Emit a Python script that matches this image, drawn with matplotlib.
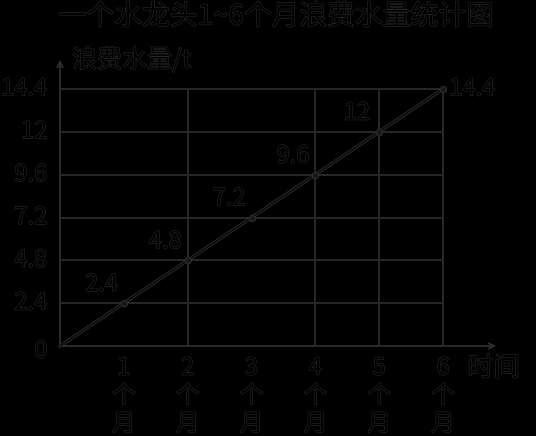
import matplotlib
matplotlib.use("Agg")
import matplotlib.pyplot as plt
import matplotlib.patheffects as pe

plt.rcParams['font.family'] = ['Noto Sans CJK SC', 'DejaVu Sans']

# data
months = [0, 1, 2, 3, 4, 5, 6]
water = [0, 2.4, 4.8, 7.2, 9.6, 12, 14.4]
y_ticks = [2.4, 4.8, 7.2, 9.6, 12, 14.4]
y_tick_labels = ["2.4", "4.8", "7.2", "9.6", "12", "14.4"]
x_ticks = [1, 2, 3, 4, 5, 6]
x_tick_labels = ["1\n个\n月", "2\n个\n月", "3\n个\n月", "4\n个\n月", "5\n个\n月", "6\n个\n月"]
v_grid = [2, 4, 5, 6]
title = "一个水龙头1~6个月浪费水量统计图"
y_title = "浪费水量/t"
x_title = "时间"

edge = "#2c2c2c"
outline = [pe.withStroke(linewidth=0.8, foreground=edge)]

fig = plt.figure(figsize=(5.36, 4.36), dpi=100, facecolor="black")
ax = fig.add_axes([60 / 536, 90 / 436, 383 / 536, 257 / 436])
ax.set_facecolor("black")
ax.set_xlim(0, 6)
ax.set_ylim(0, 14.4)
for s in ax.spines.values():
    s.set_visible(False)
ax.set_xticks([])
ax.set_yticks([])

# grid
ax.hlines(y_ticks, 0, 6, color="#282828", lw=1.4, clip_on=False)
ax.vlines(v_grid, 0, 14.4, color="#282828", lw=1.4, clip_on=False)

# axes with arrows
ax.annotate("", xy=(6.88, 0), xytext=(0, 0), xycoords="data",
            arrowprops=dict(arrowstyle="->", color="#2c2c2c", lw=1.4), annotation_clip=False)
ax.annotate("", xy=(0, 16.2), xytext=(0, 0), xycoords="data",
            arrowprops=dict(arrowstyle="->", color="#2c2c2c", lw=1.4), annotation_clip=False)

# data line
ax.plot(months, water, color="#2a2a2a", lw=2.4, clip_on=False)
ax.plot(months, water, color="black", lw=0.8, clip_on=False)
ax.plot(months[1:], water[1:], "o", ms=4.5, color="#181818", mec=edge, mew=0.8, clip_on=False)

txt = dict(color="black", path_effects=outline)

# tick labels
for v, lab in zip(y_ticks, y_tick_labels):
    ax.text(-0.2, v, lab, ha="right", va="center", fontsize=17, **txt)
ax.text(-0.2, -0.3, "0", ha="right", va="center", fontsize=17, **txt)
for m, lab in zip(x_ticks, x_tick_labels):
    ax.text(m, -0.6, lab, ha="center", va="top", fontsize=17, linespacing=1.28, **txt)

# value labels
for m, v in zip(months[1:-1], water[1:-1]):
    ax.text(m - 0.35, v + 0.4, f"{v:g}", ha="center", va="bottom", fontsize=17, **txt)
ax.text(6.1, 14.4, f"{water[-1]:g}", ha="left", va="center", fontsize=17, **txt)

# titles
ax.text(0.19, 16.0, y_title, ha="left", va="center", fontsize=18, **txt)
ax.text(6.38, -1.25, x_title, ha="left", va="center", fontsize=19, **txt)
fig.text(0.515, 0.962, title, ha="center", va="center", fontsize=20, **txt)

fig.savefig("out.png", dpi=100, facecolor="black")
